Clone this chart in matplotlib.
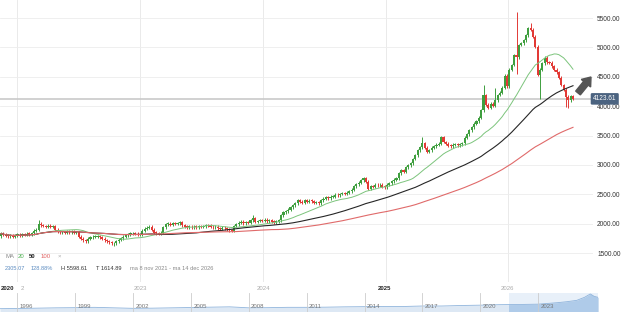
import numpy as np
import pandas as pd
import matplotlib
matplotlib.use("Agg")
import matplotlib.pyplot as plt
from matplotlib.patches import FancyArrow
from matplotlib.transforms import IdentityTransform, blended_transform_factory

# weekly closes (nov 2021 .. dec 2026)
closes = [
    1830, 1810, 1795, 1785, 1792, 1780, 1805, 1815, 1800, 1820,
    1812, 1830, 1822, 1840, 1880, 1895, 2000, 1975, 1960, 1945,
    1965, 1950, 1958, 1900, 1870, 1850, 1855, 1845, 1860, 1850,
    1862, 1848, 1855, 1780, 1745, 1720, 1700, 1740, 1765, 1775,
    1780, 1790, 1770, 1740, 1720, 1700, 1680, 1665, 1670, 1700,
    1725, 1755, 1775, 1800, 1815, 1835, 1840, 1825, 1810, 1818,
    1880, 1910, 1930, 1945, 1895, 1845, 1840, 1830, 1845, 1940,
    1990, 2000, 1985, 2005, 1995, 2010, 2025, 1975, 1945, 1940,
    1950, 1935, 1945, 1938, 1950, 1945, 1955, 1975, 1970, 1950,
    1935, 1945, 1925, 1915, 1930, 1920, 1905, 1890, 1875, 1960,
    1990, 2015, 2030, 2010, 2020, 2015, 2060, 2095, 2030, 2045,
    2060, 2050, 2065, 2040, 2055, 2035, 2025, 2030, 2060, 2140,
    2190, 2210, 2235, 2280, 2310, 2350, 2400, 2370, 2355, 2395,
    2375, 2390, 2380, 2355, 2360, 2350, 2400, 2420, 2445, 2430,
    2455, 2460, 2490, 2480, 2505, 2515, 2510, 2525, 2555, 2575,
    2640, 2670, 2700, 2740, 2770, 2710, 2590, 2640, 2625, 2660,
    2650, 2665, 2625, 2620, 2660, 2690, 2725, 2750, 2775, 2860,
    2910, 2880, 2960, 2990, 3030, 3100, 3160, 3250, 3300, 3370,
    3290, 3225, 3250, 3290, 3320, 3345, 3360, 3470, 3390, 3360,
    3330, 3320, 3340, 3355, 3335, 3350, 3370, 3460, 3520, 3590,
    3640, 3700, 3740, 3800, 3930, 4190, 4020, 3970, 4040, 4010,
    4100, 4190, 4230, 4310, 4520, 4340, 4620, 4700, 4870, 4830,
    5040, 5070, 5120, 5210, 5330, 5300, 5180, 5010, 4530, 4620,
    4730, 4820, 4750, 4740, 4680, 4620, 4580, 4480, 4360, 4280,
    4160, 4100, 4170, 4123.61,
]
first_open = 1788.54

# the long wicks that stand out
wick_highs = {16: 2060, 107: 2140, 179: 3480, 205: 4360, 210: 4310,
              219: 5598.61, 225: 5420, 231: 4860}
wick_lows = {48: 1614.89, 219: 4550, 229: 4120, 240: 3985, 241: 3960}

grid_pos = [6.8, 59.1, 111.5, 163.4, 215.3]
price_ticks = [1500, 2000, 2500, 3000, 3500, 4000, 4500, 5000, 5500]
last_price = 4123.61

nav_years = [1995.1, 1996, 1997, 1998, 1999, 2000, 2001, 2002, 2003, 2004,
             2005, 2006, 2007, 2008, 2009, 2010, 2011, 2012, 2013, 2014,
             2015, 2016, 2017, 2018, 2019, 2020, 2021, 2022, 2023, 2024,
             2024.5, 2025, 2025.4, 2025.7, 2025.9, 2026.1]
nav_values = [1000, 1050, 1150, 1250, 1300, 1400, 1250, 1100, 1150, 1250,
              1350, 1450, 1550, 1250, 1300, 1400, 1400, 1450, 1550, 1600,
              1650, 1650, 1800, 1800, 1950, 2050, 2200, 2250, 2350, 2800,
              3100, 3500, 4400, 5400, 4700, 4400]
nav_tick_years = [1996, 1999, 2002, 2005, 2008, 2011, 2014, 2017, 2020, 2023]

W, H = 625, 312
plt.rcParams['font.family'] = ['Liberation Sans', 'DejaVu Sans']
fig = plt.figure(figsize=(W / 100, H / 100), dpi=100)


def fx(px):
    return px / W


def fy(py):
    return 1 - py / H


GREEN = '#3f9f3f'
RED = '#e23a36'

# main chart
ax = fig.add_axes([0, fy(282), fx(593), 282 / H])
n = len(closes)
idx = np.arange(n)
closes_a = np.array(closes, dtype=float)
opens_a = np.concatenate([[first_open], closes_a[:-1]])
up = closes_a >= opens_a
colors = np.where(up, GREEN, RED)
body_lo = np.minimum(opens_a, closes_a)
body_hi = np.maximum(opens_a, closes_a)
highs = body_hi + 25
lows = body_lo - 25
for k, v in wick_highs.items():
    highs[k] = v
for k, v in wick_lows.items():
    lows[k] = v

ax.vlines(idx, lows, highs, colors=colors, lw=0.7, zorder=3)
ax.bar(idx, np.maximum(body_hi - body_lo, 14), bottom=body_lo, width=0.9,
       color=colors, linewidth=0, zorder=4)

s = pd.Series(closes_a)
ax.plot(idx, s.rolling(20, min_periods=1).mean(), color='#7cc47c', lw=0.7, zorder=5)
ax.plot(idx, s.rolling(50, min_periods=1).mean(), color='#262626', lw=0.8, zorder=5)
ax.plot(idx, s.rolling(100, min_periods=1).mean(), color='#e06a6a', lw=0.8, zorder=5)

ax.axhline(last_price, color='#c9c9c9', lw=1.2, zorder=2)

ax.set_xlim(-0.43, 251.5)
ax.set_ylim(1006.8, 5806.4)
ax.set_yticks(price_ticks)
ax.set_yticklabels([f"{p:.2f}" for p in price_ticks])
ax.yaxis.tick_right()
ax.tick_params(axis='y', length=0, pad=3, labelsize=4.7, labelcolor='#333333')
ax.set_xticks(grid_pos)
ax.tick_params(axis='x', length=0, labelbottom=False)
ax.grid(True, axis='y', color='#ededed', lw=0.6)
ax.grid(True, axis='x', color='#e6e6e6', lw=0.6)
ax.set_axisbelow(True)
for sp in ax.spines.values():
    sp.set_visible(False)

trans = blended_transform_factory(ax.transAxes, ax.transData)
ax.text(1.0, last_price, f"{last_price:.2f}", transform=trans, ha='left',
        va='center', fontsize=4.7, color='white', zorder=10,
        bbox=dict(boxstyle='round,pad=0.35,rounding_size=0.2',
                  fc='#4b6380', ec='none'))

# arrow to the right of the last candles
fig.add_artist(FancyArrow(578, 219, 13, 16, width=6, head_width=12,
                          head_length=8, length_includes_head=True,
                          color='#555555', transform=IdentityTransform()))

# legend lines
for text, color, x, weight in [("MA", '#8a8a8a', 5, 'normal'),
                               ("20", '#4caf50', 18, 'normal'),
                               ("50", '#222222', 29, 'bold'),
                               ("100", '#e06060', 41, 'normal'),
                               ("\u00d7", '#aaaaaa', 58, 'normal')]:
    fig.text(fx(x), fy(256), text, color=color, fontsize=4.3, va='center',
             fontweight=weight)
for text, color, x in [("2305.07", '#5b8bc0', 5),
                       ("128.88%", '#5b8bc0', 31),
                       ("H 5598.61", '#333333', 61),
                       ("T 1614.89", '#333333', 96),
                       ("ma 8 nov 2021 - ma 14 dec 2026", '#888888', 130)]:
    fig.text(fx(x), fy(268), text, color=color, fontsize=4.1, va='center')

# date row
fig.text(fx(1), fy(288), "2020", fontsize=4.3, fontweight='bold',
         color='#222222', va='center')
fig.text(fx(21), fy(288), "2", fontsize=4.3, color='#aaaaaa', va='center')
for text, x, bold in [("2023", 140, False), ("2024", 263, False),
                      ("2025", 385, True), ("2026", 507, False)]:
    fig.text(fx(x), fy(288), text, fontsize=4.3, ha='center', va='center',
             fontweight='bold' if bold else 'normal',
             color='#222222' if bold else '#aaaaaa')

# navigator
nav = fig.add_axes([0, 0, fx(598), 19 / H])
nav.set_xlim(1995.1, 2026.1)
nav.set_ylim(0, 5700)
nav.axis('off')
span = nav.axvspan(2021.5, 2026.1, color='#e8f0f9', lw=0, zorder=0)
nav.fill_between(nav_years, nav_values, color='#dde8f4', lw=0, zorder=1)
sel = nav.fill_between(nav_years, nav_values, color='#afcbe9', lw=0, zorder=2)
sel.set_clip_path(span)
nav.plot(nav_years, nav_values, color='#8fb4dc', lw=0.6, zorder=3)
ntrans = blended_transform_factory(nav.transData, nav.transAxes)
for yr in nav_tick_years:
    nav.axvline(yr, color='#cccccc', lw=0.6, zorder=4)
    nav.text(yr + 0.12, 0.27, str(yr), transform=ntrans, fontsize=4.3,
             color='#777777', va='center', zorder=5)

fig.savefig("out.png", dpi=100)
